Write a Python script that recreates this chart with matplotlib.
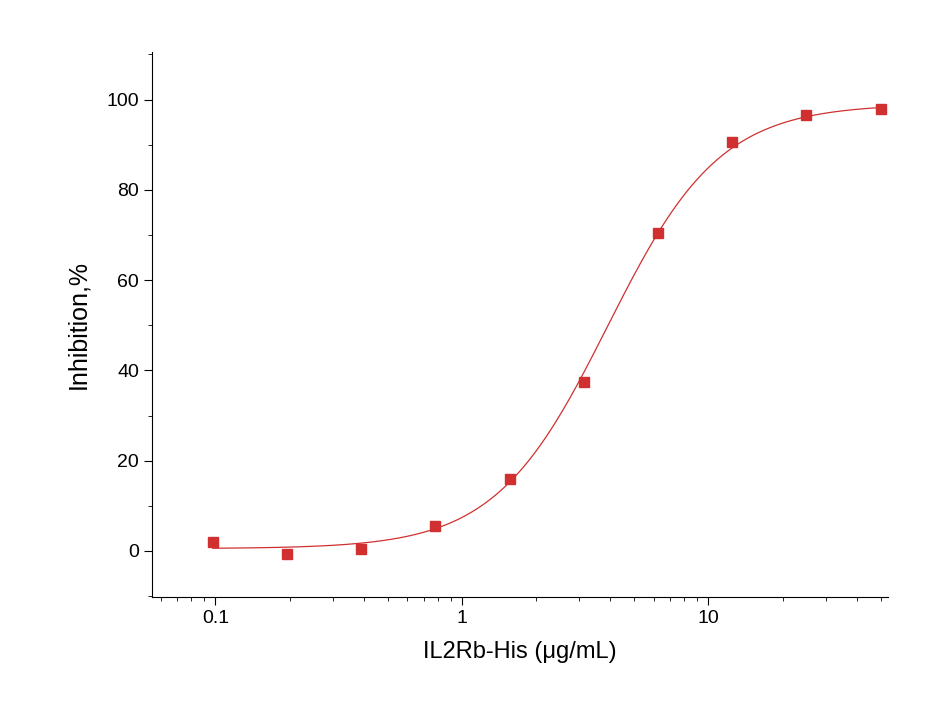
import numpy as np
import matplotlib
matplotlib.use("Agg")
import matplotlib.pyplot as plt
from matplotlib.ticker import MultipleLocator, LogLocator, NullFormatter

plt.rcParams['font.family'] = ['Liberation Sans', 'DejaVu Sans']

conc = [0.0977, 0.195, 0.39, 0.78, 1.5625, 3.125, 6.25, 12.5, 25, 50]
inhib = [2.0, -0.7, 0.5, 5.5, 16.0, 37.5, 70.5, 90.5, 96.5, 98.0]
# 4PL fit parameters
bottom, top, ec50, hill = 0.5, 99.0, 3.9, 1.9

fig = plt.figure(figsize=(9.4, 7.28), dpi=100)
ax = fig.add_axes([0.162, 0.18, 0.783, 0.749])
xs = np.logspace(np.log10(0.0977), np.log10(50), 400)
ys = bottom + (top - bottom) * (xs / ec50) ** hill / (1 + (xs / ec50) ** hill)
ax.plot(xs, ys, color='#d03030', lw=0.9)
ax.plot(conc, inhib, 's', color='#d03030', ms=7)
ax.set_xscale('log')
ax.set_xlim(0.0555, 53.7)
ax.set_ylim(-10.2, 110.6)
ax.set_xticks([0.1, 1, 10])
ax.set_xticklabels(['0.1', '1', '10'])
ax.xaxis.set_minor_locator(LogLocator(base=10, subs=np.arange(2, 10)))
ax.xaxis.set_minor_formatter(NullFormatter())
ax.set_yticks([0, 20, 40, 60, 80, 100])
ax.yaxis.set_minor_locator(MultipleLocator(10))
for s in ['top', 'right']:
    ax.spines[s].set_visible(False)
ax.tick_params(which='major', direction='out', length=6, labelsize=14)
ax.tick_params(which='minor', direction='out', length=3)
ax.set_xlabel('IL2Rb-His (μg/mL)', fontsize=17, labelpad=10)
ax.set_ylabel('Inhibition,%', fontsize=18, labelpad=12)
fig.savefig('out.png', dpi=100)
